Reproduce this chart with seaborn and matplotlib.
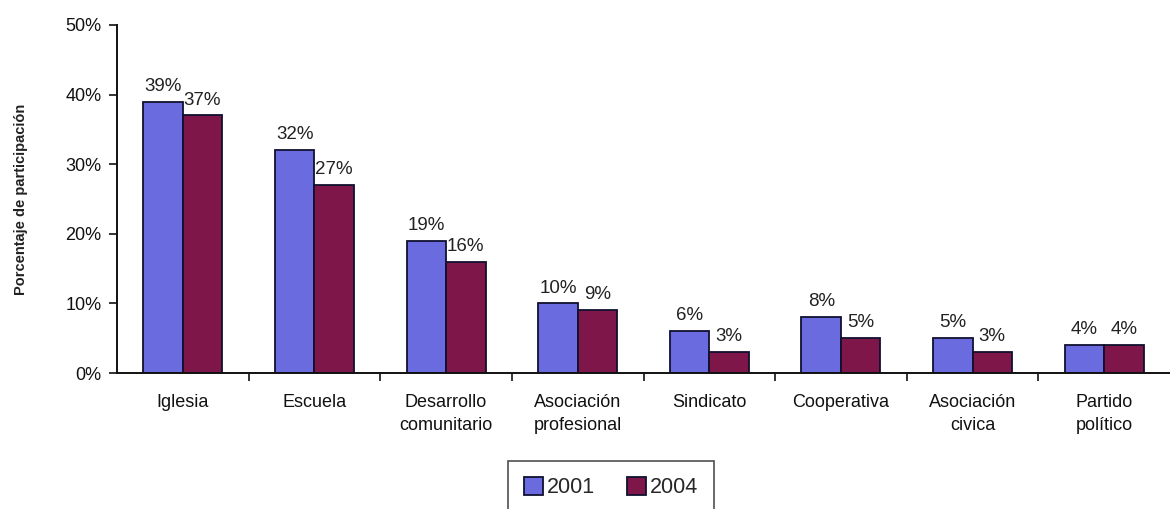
import matplotlib
matplotlib.use("Agg")
import matplotlib.pyplot as plt
import seaborn as sns
import pandas as pd
from matplotlib.ticker import PercentFormatter, FixedLocator

# Participation by type of organisation
categories = ["Iglesia", "Escuela", "Desarrollo\ncomunitario", "Asociación\nprofesional",
              "Sindicato", "Cooperativa", "Asociación\ncivica", "Partido\npolítico"]
values_2001 = [39, 32, 19, 10, 6, 8, 5, 4]
values_2004 = [37, 27, 16, 9, 3, 5, 3, 4]
years = ["2001", "2004"]
colors = ["#6B6BE0", "#7E1649"]

df = pd.DataFrame({
    "categoria": categories * 2,
    "anio": [years[0]] * len(categories) + [years[1]] * len(categories),
    "valor": values_2001 + values_2004,
})

sns.set_theme(style="white")
plt.rcParams["font.family"] = ["Liberation Sans", "DejaVu Sans"]

fig = plt.figure(figsize=(11.7, 5.09), dpi=100)
ax = fig.add_axes([0.1, 0.267, 0.9, 0.684])

sns.barplot(data=df, x="categoria", y="valor", hue="anio", hue_order=years,
            palette=colors, width=0.6, gap=0, edgecolor="#101030", linewidth=1.3,
            saturation=1, ax=ax, legend=True)

for container in ax.containers:
    ax.bar_label(container, labels=[f"{v:.0f}%" for v in container.datavalues],
                 padding=5, fontsize=13.5, color="#222222")

ax.set_ylim(0, 50)
ax.set_xlim(-0.5, len(categories) - 0.5)
ax.yaxis.set_major_formatter(PercentFormatter(decimals=0))
ax.set_yticks([0, 10, 20, 30, 40, 50])
ax.tick_params(axis="y", labelsize=13, length=6, width=1.2, direction="out",
               left=True, colors="#111111", pad=5)
ax.tick_params(axis="x", labelsize=13, length=0, pad=15, colors="#111111")
for lbl in ax.get_xticklabels():
    lbl.set_linespacing(1.45)

# category separators on the x axis
ax.xaxis.set_minor_locator(FixedLocator([i + 0.5 for i in range(len(categories) - 1)]))
ax.tick_params(axis="x", which="minor", bottom=True, length=6, width=1.2,
               direction="out", color="#111111")

ax.set_xlabel("")
ax.set_ylabel("Porcentaje de participación", fontsize=10.5, fontweight="bold",
              color="#222222", labelpad=27)

for side in ["top", "right"]:
    ax.spines[side].set_visible(False)
for side in ["left", "bottom"]:
    ax.spines[side].set_color("#111111")
    ax.spines[side].set_linewidth(1.4)

leg = ax.legend(loc="upper center", bbox_to_anchor=(0.522, 0.116),
                bbox_transform=fig.transFigure, ncol=2, fontsize=15.5, frameon=True,
                fancybox=False, edgecolor="#222222", handlelength=0.9,
                handleheight=0.9, handletextpad=0.15, columnspacing=1.5,
                borderpad=0.75)
leg.get_frame().set_linewidth(1.2)

fig.savefig("out.png", dpi=100)
